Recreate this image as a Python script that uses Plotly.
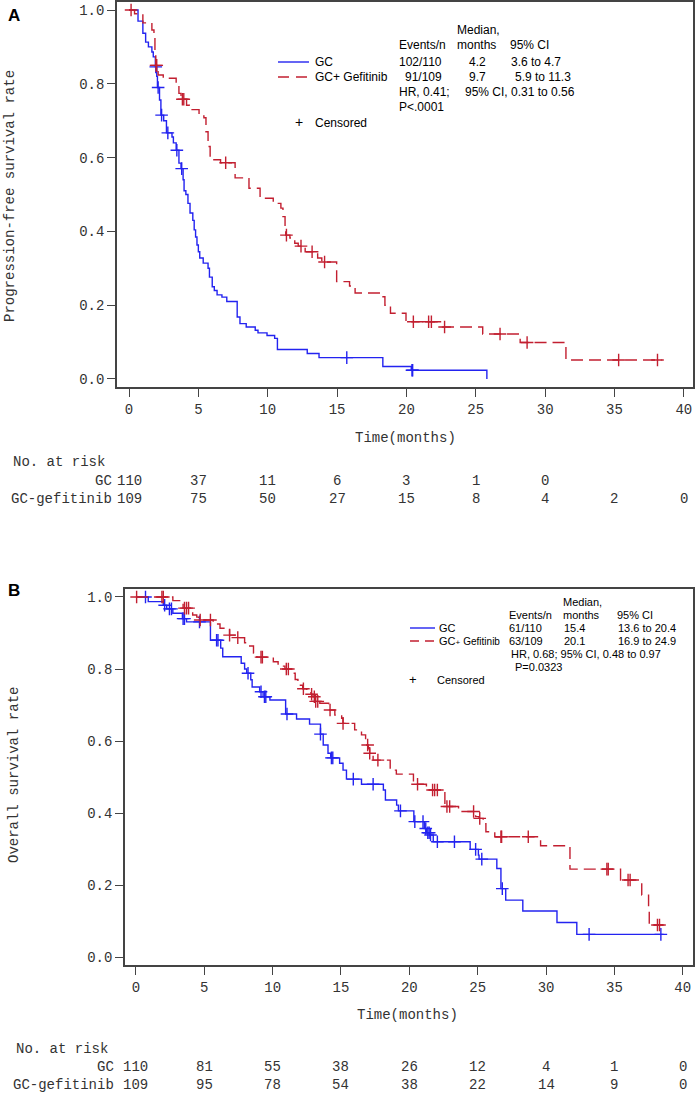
import numpy as np
import plotly.graph_objects as go

# ---------------- DATA ----------------
# Panel A: progression-free survival (step times, survival after step)
pfs_gc_t = [0, 0.65, 1.0, 1.2, 1.4, 1.65, 1.75, 1.9, 2.0, 2.05, 2.2, 2.3, 2.5, 2.7, 3.1, 3.2, 3.4, 3.6,
            3.75, 3.9, 3.97, 4.1, 4.25, 4.4, 4.6, 4.7, 4.8, 4.9, 5.0, 5.1, 5.35, 5.7, 5.8, 6.0, 6.15,
            6.35, 6.7, 7.05, 7.8, 8.0, 8.45, 9.1, 9.3, 9.95, 10.5, 10.7, 12.85, 13.7, 18.3, 20.35, 25.8]
pfs_gc_s = [1.0, 0.97, 0.937, 0.913, 0.90, 0.886, 0.873, 0.846, 0.82, 0.79, 0.756, 0.715, 0.70, 0.667,
            0.656, 0.64, 0.62, 0.585, 0.57, 0.54, 0.51, 0.50, 0.476, 0.45, 0.43, 0.404, 0.385, 0.363,
            0.345, 0.328, 0.314, 0.30, 0.276, 0.25, 0.24, 0.228, 0.222, 0.21, 0.168, 0.15, 0.141,
            0.132, 0.125, 0.118, 0.11, 0.08, 0.069, 0.058, 0.034, 0.0235, 0.0]
pfs_gc_cens = [1.93, 2.1, 2.35, 2.8, 3.45, 3.8, 15.7, 20.4, 20.45]

pfs_gef_t = [0, 0.4, 1.0, 1.65, 1.8, 1.87, 1.93, 2.1, 2.47, 3.4, 3.6, 3.75, 4.15, 4.35, 5.05, 5.4,
             5.55, 5.7, 5.85, 6.6, 7.65, 8.65, 9.45, 10.4, 10.95, 11.1, 11.25, 11.3, 11.6, 11.95,
             12.2, 12.7, 13.6, 13.9, 14.97, 15.9, 16.3, 18.2, 18.45, 18.85, 19.97, 22.6, 25.5,
             28.2, 31.5, 38.4]
pfs_gef_s = [1.0, 0.99, 0.965, 0.946, 0.927, 0.89, 0.85, 0.824, 0.815, 0.794, 0.774, 0.758, 0.742,
             0.73, 0.713, 0.708, 0.67, 0.63, 0.594, 0.586, 0.545, 0.517, 0.49, 0.476, 0.463, 0.44,
             0.413, 0.39, 0.382, 0.368, 0.36, 0.345, 0.328, 0.317, 0.264, 0.252, 0.233, 0.223, 0.20,
             0.178, 0.155, 0.141, 0.122, 0.099, 0.0515, 0.0515]
pfs_gef_cens = [0.15, 1.95, 2.0, 3.85, 3.95, 6.97, 11.35, 12.4, 13.2, 14.1, 20.5, 21.6, 21.8, 22.75,
                26.75, 28.7, 35.3, 38.1]

# Panel B: overall survival
os_gc_t = [0, 0.9, 2.0, 2.25, 2.7, 3.4, 3.7, 5.45, 6.2, 6.35, 7.7, 7.95, 8.1, 8.4, 8.5, 9.05, 9.3,
           9.8, 10.95, 11.75, 12.7, 13.5, 13.7, 14.05, 14.25, 14.9, 15.15, 15.4, 16.5, 18.1, 18.25,
           19.07, 19.2, 20.33, 21.1, 21.25, 21.5, 21.75, 24.45, 25.05, 25.1, 26.4, 26.7, 27.05,
           28.3, 30.8, 32.25, 38.6]
os_gc_s = [1.0, 0.987, 0.977, 0.967, 0.955, 0.94, 0.931, 0.88, 0.858, 0.834, 0.816, 0.80, 0.788,
           0.77, 0.75, 0.737, 0.723, 0.714, 0.675, 0.661, 0.647, 0.619, 0.589, 0.566, 0.553, 0.538,
           0.519, 0.494, 0.48, 0.464, 0.436, 0.422, 0.406, 0.376, 0.357, 0.345, 0.339, 0.32, 0.299,
           0.283, 0.272, 0.246, 0.19, 0.158, 0.128, 0.096, 0.063, 0.063]
os_gc_cens = [0.7, 2.1, 2.45, 2.6, 3.45, 3.55, 4.65, 5.9, 6.0, 8.2, 9.15, 9.4, 9.5, 11.05, 13.5,
              14.3, 14.4, 15.9, 17.35, 19.35, 20.4, 21.0, 21.2, 21.35, 21.45, 21.55, 22.05, 23.3,
              24.85, 25.3, 26.8, 33.15, 38.4]

os_gef_t = [0, 2.7, 3.45, 4.15, 4.45, 4.6, 5.65, 6.15, 6.85, 7.4, 7.95, 8.1, 8.6, 8.85, 10.05,
            10.4, 10.9, 11.5, 11.65, 11.85, 12.2, 12.5, 12.8, 12.95, 13.1, 13.45, 14.1, 14.55,
            15.05, 15.15, 16.0, 16.5, 16.8, 17.0, 17.1, 17.35, 18.6, 19.05, 20.3, 20.5, 21.25,
            22.6, 23.6, 24.85, 25.1, 25.4, 25.6, 26.25, 29.6, 31.75, 35.45, 37.0, 37.5, 37.55,
            38.55]
os_gef_s = [1.0, 0.99, 0.969, 0.95, 0.944, 0.936, 0.925, 0.913, 0.894, 0.887, 0.873, 0.864, 0.844,
            0.833, 0.82, 0.808, 0.80, 0.788, 0.771, 0.755, 0.745, 0.737, 0.73, 0.723, 0.71, 0.705,
            0.686, 0.672, 0.663, 0.649, 0.631, 0.617, 0.589, 0.578, 0.566, 0.547, 0.519, 0.508,
            0.487, 0.48, 0.464, 0.418, 0.404, 0.39, 0.385, 0.37, 0.348, 0.334, 0.309, 0.244,
            0.214, 0.172, 0.126, 0.089, 0.089]
os_gef_cens = [0.05, 1.9, 2.0, 3.55, 3.7, 3.85, 4.7, 5.45, 6.85, 7.45, 9.15, 9.25, 11.0, 11.15,
               12.25, 12.85, 13.05, 13.15, 13.3, 14.2, 15.15, 16.95, 17.1, 17.7, 20.6, 21.7, 21.85,
               22.05, 22.75, 22.95, 24.7, 25.15, 26.7, 26.75, 28.7, 34.45, 34.55, 36.0, 36.15,
               38.15, 38.3]

risk_times = [0, 5, 10, 15, 20, 25, 30, 35, 40]
pfs_risk_gc = [110, 37, 11, 6, 3, 1, 0]
pfs_risk_gef = [109, 75, 50, 27, 15, 8, 4, 2, 0]
os_risk_gc = [110, 81, 55, 38, 26, 12, 4, 1, 0]
os_risk_gef = [109, 95, 78, 54, 38, 22, 14, 9, 0]

x_ticks = [0, 5, 10, 15, 20, 25, 30, 35, 40]
y_ticks = [0.0, 0.2, 0.4, 0.6, 0.8, 1.0]

# ---------------- STYLE ----------------
W, H = 697, 1095
BLUE = "#2323f0"
RED = "#c21f30"
AXC = "#444444"
TXT = "#333333"
MONO = "Liberation Mono, DejaVu Sans Mono, monospace"
SANS = "Liberation Sans, Arial, sans-serif"


def px(x):
    return x / W


def py(y):
    return 1 - y / H


def surv_at(times, surv, c):
    i = np.searchsorted(np.asarray(times), c, side="right") - 1
    return np.asarray(surv)[i]


fig = go.Figure()


def add_curve(times, surv, cens, color, dash, xa, ya):
    fig.add_trace(go.Scatter(x=times, y=surv, mode="lines", line_shape="hv",
                             line=dict(color=color, width=1.4, dash=dash),
                             xaxis=xa, yaxis=ya, showlegend=False, hoverinfo="skip"))
    cy = [surv_at(times, surv, c) for c in cens]
    fig.add_trace(go.Scatter(x=cens, y=cy, mode="markers",
                             marker=dict(symbol="cross-thin", size=9,
                                         line=dict(color=color, width=1.4)),
                             xaxis=xa, yaxis=ya, showlegend=False, hoverinfo="skip"))


add_curve(pfs_gc_t, pfs_gc_s, pfs_gc_cens, BLUE, "solid", "x", "y")
add_curve(pfs_gef_t, pfs_gef_s, pfs_gef_cens, RED, "12px,6px", "x", "y")
add_curve(os_gc_t, os_gc_s, os_gc_cens, BLUE, "solid", "x2", "y2")
add_curve(os_gef_t, os_gef_s, os_gef_cens, RED, "12px,6px", "x2", "y2")

axis_common = dict(showgrid=False, zeroline=False, showline=True, mirror=True,
                   linecolor=AXC, linewidth=1.5, ticks="outside", ticklen=8,
                   tickwidth=1.2, tickcolor=AXC, automargin=False,
                   tickfont=dict(family=MONO, size=14, color=TXT))

fig.update_layout(
    width=W, height=H, margin=dict(l=0, r=0, t=0, b=0),
    paper_bgcolor="white", plot_bgcolor="white", autosize=False,
    xaxis=dict(domain=[px(117), px(693)], range=[-0.865, 40.66], tickvals=x_ticks,
               anchor="y", **axis_common),
    yaxis=dict(domain=[py(387), py(2)], range=[-0.0217, 1.0217], tickvals=y_ticks,
               tickformat=".1f", anchor="x", **axis_common),
    xaxis2=dict(domain=[px(125), px(693)], range=[-0.80, 40.75], tickvals=x_ticks,
                anchor="y2", **axis_common),
    yaxis2=dict(domain=[py(965), py(589)], range=[-0.0222, 1.0222], tickvals=y_ticks,
                tickformat=".1f", anchor="x2", **axis_common),
)

ann = []


def text(x, y, s, size=12, family=SANS, anchor="left", color="black", xref="paper", angle=0):
    ann.append(dict(x=x if xref != "paper" else px(x), y=py(y), xref=xref, yref="paper",
                    text=s, showarrow=False, xanchor=anchor, yanchor="middle",
                    textangle=angle, font=dict(family=family, size=size, color=color)))


# Panel letters
text(6, 15, "<b>A</b>", size=17, family=SANS)
text(6, 590, "<b>B</b>", size=17, family=SANS)

# Axis titles
text(10, 196, "Progression-free survival rate", size=14, family=MONO, anchor="center",
     color=TXT, angle=-90)
text(14, 775, "Overall survival rate", size=14, family=MONO, anchor="center",
     color=TXT, angle=-90)
text(405, 438, "Time(months)", size=14, family=MONO, anchor="center", color=TXT)
text(407, 1015, "Time(months)", size=14, family=MONO, anchor="center", color=TXT)

# Risk tables
text(11, 462, "No. at risk", size=14, family=MONO, color=TXT)
text(114, 481, "GC", size=14, family=MONO, anchor="right", color=TXT)
text(114, 499, "GC-gefitinib", size=14, family=MONO, anchor="right", color=TXT)
for t, n in zip(risk_times, pfs_risk_gc):
    text(t, 481, str(n), size=14, family=MONO, anchor="center", color=TXT, xref="x")
for t, n in zip(risk_times, pfs_risk_gef):
    text(t, 499, str(n), size=14, family=MONO, anchor="center", color=TXT, xref="x")

text(14, 1049, "No. at risk", size=14, family=MONO, color=TXT)
text(116, 1067, "GC", size=14, family=MONO, anchor="right", color=TXT)
text(116, 1085, "GC-gefitinib", size=14, family=MONO, anchor="right", color=TXT)
for t, n in zip(risk_times, os_risk_gc):
    text(t, 1067, str(n), size=14, family=MONO, anchor="center", color=TXT, xref="x2")
for t, n in zip(risk_times, os_risk_gef):
    text(t, 1085, str(n), size=14, family=MONO, anchor="center", color=TXT, xref="x2")

# Legend A
text(455, 30, "Median,", 12)
text(397, 45, "Events/n", 12)
text(455, 45, "months", 12)
text(508, 45, "95% CI", 12)
text(313, 62, "GC", 12)
text(397, 62, "102/110", 12)
text(477, 62, "4.2", 12, anchor="center")
text(509, 62, "3.6 to 4.7", 12)
text(313, 77, "GC+ Gefitinib", 12)
text(403, 77, "91/109", 12)
text(477, 77, "9.7", 12, anchor="center")
text(513, 77, "5.9 to 11.3", 12)
text(397, 92, "HR, 0.41;", 12)
text(463, 92, "95% CI, 0.31 to 0.56", 12)
text(397, 107, "P<.0001", 12)
text(299, 122, "+", 14, anchor="center")
text(313, 123, "Censored", 12)

# Legend B
text(561, 602, "Median,", 11)
text(507, 615, "Events/n", 11)
text(561, 615, "months", 11)
text(615, 615, "95% CI", 11)
text(437, 628, "GC", 11)
text(507, 628, "61/110", 11)
text(562, 628, "15.4", 11)
text(616, 628, "13.6 to 20.4", 11)
text(437, 641, "GC<span style='font-size:8px'>+</span> <span style='font-size:10px'>Gefitinib</span>", 11)
text(507, 641, "63/109", 11)
text(562, 641, "20.1", 11)
text(616, 641, "16.9 to 24.9", 11)
text(509, 654, "HR, 0.68; 95% CI, 0.48 to 0.97", 11)
text(513, 667, "P=0.0323", 11)
text(413, 679, "+", 13, anchor="center")
text(435, 680, "Censored", 11)

fig.update_layout(annotations=ann)

shapes = [
    dict(type="line", xref="paper", yref="paper", x0=px(278), x1=px(309), y0=py(62), y1=py(62),
         line=dict(color=BLUE, width=1.4)),
    dict(type="line", xref="paper", yref="paper", x0=px(278), x1=px(309), y0=py(77), y1=py(77),
         line=dict(color=RED, width=1.4, dash="11px,7px")),
    dict(type="line", xref="paper", yref="paper", x0=px(410), x1=px(435), y0=py(628), y1=py(628),
         line=dict(color=BLUE, width=1.4)),
    dict(type="line", xref="paper", yref="paper", x0=px(410), x1=px(435), y0=py(641), y1=py(641),
         line=dict(color=RED, width=1.4, dash="9px,6px")),
]
fig.update_layout(shapes=shapes)

fig.write_html("out.html", config={"displayModeBar": False},
               post_script="document.body.style.margin='0';document.body.style.overflow='hidden';")
